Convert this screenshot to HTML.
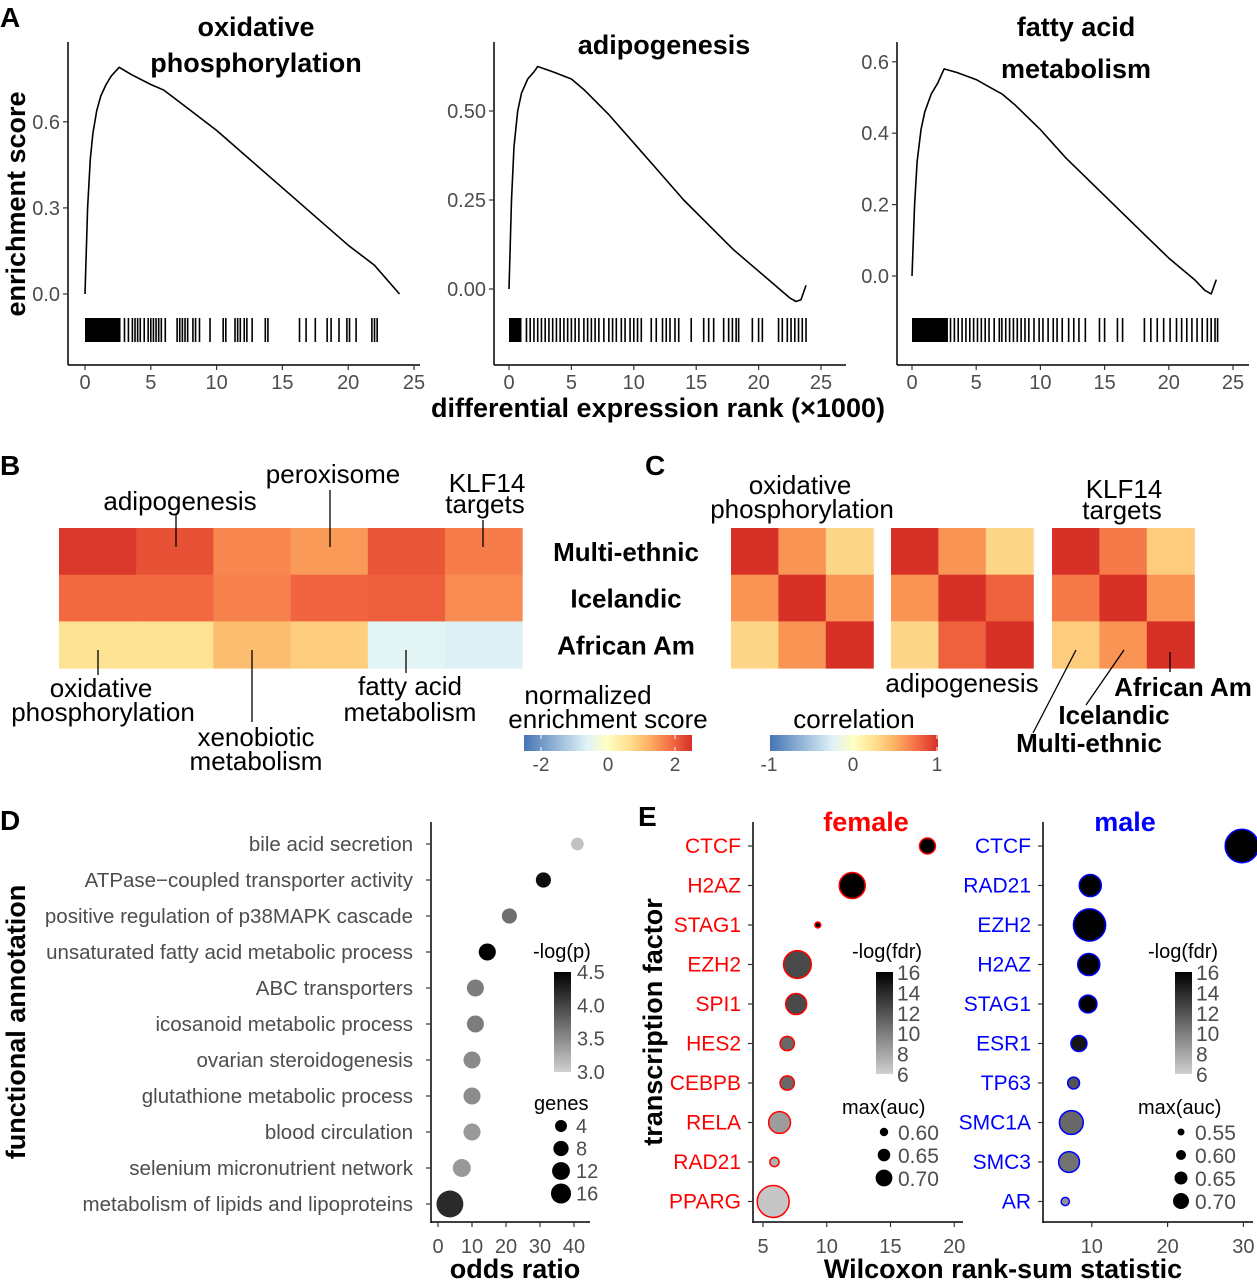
<!DOCTYPE html>
<html><head><meta charset="utf-8"><style>
html,body{margin:0;padding:0;background:#fff}
svg{display:block;font-family:"Liberation Sans",sans-serif}
</style></head><body>
<svg id="fig" width="1257" height="1280" viewBox="0 0 1257 1280" xmlns="http://www.w3.org/2000/svg">
<defs>
<linearGradient id="gNES" x1="0" x2="1" y1="0" y2="0"><stop offset="0" stop-color="#4575b4"/><stop offset="0.375" stop-color="#e0f3f8"/><stop offset="0.5" stop-color="#ffffbf"/><stop offset="0.625" stop-color="#fee090"/><stop offset="0.75" stop-color="#fdae61"/><stop offset="0.875" stop-color="#f46d43"/><stop offset="1" stop-color="#d73027"/></linearGradient>
<linearGradient id="gGray" x1="0" x2="0" y1="1" y2="0"><stop offset="0" stop-color="#d0d0d0"/><stop offset="1" stop-color="#000"/></linearGradient>
</defs>
<g id="root"></g>
</svg>
<script>
// ---------- Panel A data ----------
const gseaTitles=[["oxidative","phosphorylation"],["adipogenesis"],["fatty acid","metabolism"]];
const curve1Rank=[0,0.2,0.4,0.6,0.9,1.2,1.6,2.0,2.6,3.5,5,6,8,10,12,14,16,18,20,22,23.9];
const curve1ES=[0,0.3,0.47,0.56,0.64,0.69,0.73,0.76,0.79,0.765,0.73,0.71,0.64,0.57,0.49,0.41,0.33,0.25,0.17,0.10,0];
const curve2Rank=[0,0.2,0.4,0.7,1.0,1.5,2.0,2.3,3.5,5,6,8,10,12,14,16,18,20,22,22.5,23,23.4,23.8];
const curve2ES=[0,0.25,0.4,0.5,0.55,0.59,0.61,0.625,0.61,0.59,0.56,0.49,0.41,0.33,0.25,0.18,0.11,0.05,-0.01,-0.025,-0.035,-0.03,0.01];
const curve3Rank=[0,0.2,0.4,0.7,1.0,1.5,2.0,2.5,3.5,5,6,7,8,10,12,14,16,18,20,22,22.8,23.3,23.7];
const curve3ES=[0,0.2,0.32,0.41,0.46,0.51,0.54,0.58,0.57,0.55,0.53,0.51,0.48,0.41,0.33,0.26,0.19,0.12,0.05,-0.01,-0.04,-0.05,-0.01];
const bar1Dense=[0,2.7];
const bar1Ranks=[3.0,3.3,3.6,3.8,4.0,4.2,4.5,4.8,5.0,5.2,5.4,5.6,5.8,6.1,7.0,7.2,7.4,7.6,7.8,8.2,8.4,8.7,9.5,10.5,10.7,11.4,11.6,11.8,12.1,12.3,12.7,13.7,13.9,16.3,16.8,17.5,18.4,18.7,19.3,19.9,20.1,20.6,21.8,22.0,22.2];
const bar2Dense=[0,1.0];
const bar2Ranks=[1.4,1.7,2.0,2.3,2.6,2.9,3.2,3.5,3.8,4.1,4.4,4.7,5.0,5.3,5.6,6.0,6.3,6.6,6.9,7.2,7.6,8.0,8.3,8.6,9.0,9.3,9.7,10.0,10.3,10.6,11.4,11.8,12.3,12.6,12.9,13.3,13.6,14.6,15.6,16.0,16.4,17.2,17.6,17.9,18.2,18.4,19.5,20.0,20.3,21.6,21.9,22.3,22.6,22.9,23.2,23.5,23.8];
const bar3Dense=[0,2.8];
const bar3Ranks=[3.0,3.3,3.6,3.9,4.2,4.5,4.8,5.1,5.4,5.7,6.0,6.4,6.8,7.0,7.3,7.6,7.9,8.2,8.5,8.8,9.1,9.5,9.9,10.2,10.6,11.0,11.3,11.7,12.2,12.6,13.0,13.5,14.6,15.0,16.0,16.4,18.1,18.6,19.1,19.6,20.1,20.6,21.0,21.4,21.8,22.2,22.6,23.0,23.3,23.6,23.8];
// ---------- Panel B data ----------
const nesRows=["Multi-ethnic","Icelandic","African Am"];
const nesValues=[[2.5,2.25,1.7,1.5,2.2,1.8],[2.0,2.0,1.75,2.05,2.1,1.65],[0.6,0.6,1.1,0.9,-0.6,-0.7]];
const nesTicks=[-2,0,2];
// ---------- Panel C data ----------
const corrMats=[[[1,0.6,0.3],[0.6,1,0.6],[0.3,0.6,1]],[[1,0.6,0.3],[0.6,1,0.8],[0.3,0.8,1]],[[1,0.7,0.35],[0.7,1,0.6],[0.35,0.6,1]]];
const corrTicks=[-1,0,1];
// ---------- Panel D data ----------
const annotLabels=["bile acid secretion","ATPase−coupled transporter activity","positive regulation of p38MAPK cascade","unsaturated fatty acid metabolic process","ABC transporters","icosanoid metabolic process","ovarian steroidogenesis","glutathione metabolic process","blood circulation","selenium micronutrient network","metabolism of lipids and lipoproteins"];
const annotOR=[41,31,21,14.5,11,11,10,10,10,7,3.5];
const annotLogP=[3.1,4.4,3.7,4.6,3.6,3.6,3.5,3.5,3.4,3.4,4.2];
const annotGenes=[3,5,5,7,7,7,7,7,7,8,22];
const orTicks=[0,10,20,30,40];
const logpTicks=[4.5,4.0,3.5,3.0];
const genesLegend=[4,8,12,16];
// ---------- Panel E data ----------
const femTF=["CTCF","H2AZ","STAG1","EZH2","SPI1","HES2","CEBPB","RELA","RAD21","PPARG"];
const femW=[17.9,12.0,9.3,7.7,7.6,6.9,6.9,6.3,5.9,5.8];
const femFdr=[16,16,16,12.5,12.5,11,11,8.5,7.5,6.5];
const femAuc=[0.69,0.81,0.57,0.83,0.75,0.67,0.67,0.76,0.61,0.88];
const maleTF=["CTCF","RAD21","EZH2","H2AZ","STAG1","ESR1","TP63","SMC1A","SMC3","AR"];
const maleW=[29.8,9.8,9.7,9.6,9.5,8.3,7.6,7.3,7.0,6.5];
const maleFdr=[16,16,16,16,16,15,12,11,10.5,9];
const maleAuc=[0.99,0.8,0.97,0.8,0.73,0.7,0.63,0.83,0.78,0.57];
const femTicks=[5,10,15,20];
const maleTicks=[10,20,30];
const fdrTicks=[16,14,12,10,8,6];
const femAucLegend=[0.60,0.65,0.70];
const maleAucLegend=[0.55,0.60,0.65,0.70];

const NS="http://www.w3.org/2000/svg";
const root=document.getElementById('root');
function el(tag,attrs,parent,txt){const e=document.createElementNS(NS,tag);for(const k in attrs)e.setAttribute(k,attrs[k]);if(txt!==undefined)e.textContent=txt;(parent||root).appendChild(e);return e;}
function grp(name,parent){const g=el('g',{},parent);


return g;}
function txt(name,x,y,s,opt,parent){opt=opt||{};const t=el('text',{x:x,y:y,'font-size':opt.size||20,'text-anchor':opt.anchor||'start',fill:opt.fill||'#000','font-weight':opt.bold?'bold':'normal'},parent,s);
if(opt.rot)t.setAttribute('transform','rotate('+opt.rot+' '+x+' '+y+')');


return t;}
function lin(x1,y1,x2,y2,parent,w,c){return el('line',{x1:x1,y1:y1,x2:x2,y2:y2,stroke:c||'#000','stroke-width':w||1.5},parent);}

[["A",0,27],["B",0,475],["C",645,475],["D",0,830],["E",638,826]].forEach(p=>{txt('panel-label-'+p[0].toLowerCase(),p[1],p[2],p[0],{size:28,bold:true});});

// ---------- Panel A ----------
const gseaCfg=[
 {ax:68,x0:85,px:13.16,y0:294,py:287,ticks:[0,0.3,0.6],fmt:1,curveR:curve1Rank,curveE:curve1ES,dense:bar1Dense,ranks:bar1Ranks,tx:256,ty:[36,72]},
 {ax:494,x0:509,px:12.48,y0:289,py:356,ticks:[0,0.25,0.5],fmt:2,curveR:curve2Rank,curveE:curve2ES,dense:bar2Dense,ranks:bar2Ranks,tx:664,ty:[54]},
 {ax:897,x0:912,px:12.84,y0:276,py:357,ticks:[0,0.2,0.4,0.6],fmt:1,curveR:curve3Rank,curveE:curve3ES,dense:bar3Dense,ranks:bar3Ranks,tx:1076,ty:[36,78]}];
gseaCfg.forEach((c,i)=>{
 const g=grp('gsea-plot-'+(i+1));
 const X=r=>c.x0+r*c.px, Y=v=>c.y0-v*c.py;
 lin(c.ax,42,c.ax,365,g,1.5); lin(c.ax,365,c.ax+352,365,g,1.5);
 [0,5,10,15,20,25].forEach(t=>{lin(X(t),365,X(t),370,g,1.2,'#333');txt('x-tick',X(t),389,String(t),{size:20,anchor:'middle',fill:'#4d4d4d'},g);});
 c.ticks.forEach(t=>{lin(c.ax-5,Y(t),c.ax,Y(t),g,1.2,'#333');txt('y-tick',c.ax-8,Y(t)+7,t.toFixed(c.fmt),{size:20,anchor:'end',fill:'#4d4d4d'},g);});
 const d=c.curveR.map((r,k)=>(k?'L':'M')+X(r).toFixed(1)+' '+Y(c.curveE[k]).toFixed(1)).join(' ');
 const p=el('path',{d:d,fill:'none',stroke:'#000','stroke-width':1.6,'stroke-linejoin':'round'},g);
 
 
 el('rect',{x:X(c.dense[0]),y:318,width:X(c.dense[1])-X(c.dense[0]),height:24,fill:'#000'},g);
 c.ranks.forEach(r=>lin(X(r),318,X(r),342,g,1.6));
 gseaTitles[i].forEach((s,k)=>txt('plot-title',c.tx,c.ty[k],s,{size:27,bold:true,anchor:'middle'},g));
});
txt('y-axis-title',25,204,'enrichment score',{size:27,bold:true,anchor:'middle',rot:-90});
txt('x-axis-title',658,417,'differential expression rank (×1000)',{size:27,bold:true,anchor:'middle'});

// ---------- colour scale ----------
const stops=[[-1,[69,117,180]],[-0.25,[224,243,248]],[0,[255,255,191]],[0.25,[254,224,144]],[0.5,[253,174,97]],[0.75,[244,109,67]],[1,[215,48,39]]];
function cmap(t){t=Math.max(-1,Math.min(1,t));for(let i=0;i<stops.length-1;i++){const a=stops[i],b=stops[i+1];if(t<=b[0]){const f=(t-a[0])/(b[0]-a[0]);return 'rgb('+a[1].map((v,j)=>Math.round(v+(b[1][j]-v)*f)).join(',')+')';}}}

// ---------- Panel B ----------
const gB=grp('nes-heatmap');
const bx0=59,bw=77.2,by0=528,bh=46.7;
nesValues.forEach((row,r)=>row.forEach((v,c)=>{const rc=el('rect',{x:bx0+c*bw,y:by0+r*bh,width:bw+0.5,height:bh+0.5,fill:cmap(v/2.6)},gB);

}));
nesRows.forEach((s,r)=>txt('row-label',626,by0+r*bh+33,s,{size:26,bold:true,anchor:'middle'}));
const LS=26;
[["adipogenesis",180,510,[176,515,176,547]],["peroxisome",333,483,[330,490,330,547]],["KLF14",487,492,null],["targets",485,513,[483,520,483,547]]].forEach(a=>{txt('annotation-label',a[1],a[2],a[0],{size:LS,anchor:'middle'});if(a[3])lin(...a[3],root,1.3);});
[["oxidative",101,697],["phosphorylation",103,721],["xenobiotic",256,746],["metabolism",256,770],["fatty acid",410,695],["metabolism",410,721]].forEach(a=>txt('annotation-label',a[1],a[2],a[0],{size:LS,anchor:'middle'}));
lin(98,650,98,675,root,1.3);lin(252,650,252,722,root,1.3);lin(406,650,406,673,root,1.3);
txt('legend-title',588,704,'normalized',{size:LS,anchor:'middle'});txt('legend-title',608,728,'enrichment score',{size:LS,anchor:'middle'});
el('rect',{x:524,y:735,width:168,height:16,fill:'url(#gNES)'});
nesTicks.forEach(t=>{const x=608+t*33.5;lin(x,735,x,739,root,1,'#fff');lin(x,747,x,751,root,1,'#fff');txt('legend-tick',x,771,String(t),{size:19,anchor:'middle',fill:'#4d4d4d'});});

// ---------- Panel C ----------
const cX=[731,891,1052];
corrMats.forEach((m,k)=>{const g=grp('correlation-matrix-'+(k+1));m.forEach((row,r)=>row.forEach((v,c)=>{const rc=el('rect',{x:cX[k]+c*47.4,y:by0+r*bh,width:48,height:bh+0.5,fill:cmap(v)},g);

}));});
txt('matrix-title',800,494,'oxidative',{size:LS,anchor:'middle'});txt('matrix-title',802,518,'phosphorylation',{size:LS,anchor:'middle'});
txt('matrix-title',1124,498,'KLF14',{size:LS,anchor:'middle'});txt('matrix-title',1122,519,'targets',{size:LS,anchor:'middle'});
txt('matrix-title',962,692,'adipogenesis',{size:LS,anchor:'middle'});
txt('cohort-label',1183,696,'African Am',{size:26,bold:true,anchor:'middle'});
txt('cohort-label',1114,724,'Icelandic',{size:26,bold:true,anchor:'middle'});
txt('cohort-label',1089,752,'Multi-ethnic',{size:26,bold:true,anchor:'middle'});
lin(1170,652,1170,672,root,1.3);lin(1124,650,1086,705,root,1.3);lin(1076,650,1033,733,root,1.3);
txt('legend-title',854,728,'correlation',{size:LS,anchor:'middle'});
el('rect',{x:770,y:735,width:168,height:16,fill:'url(#gNES)'});
corrTicks.forEach(t=>{const x=853+t*84;lin(x,735,x,739,root,1,'#fff');lin(x,747,x,751,root,1,'#fff');txt('legend-tick',x,771,String(t),{size:19,anchor:'middle',fill:'#4d4d4d'});});

// ---------- Panel D ----------
const gD=grp('annotation-dotplot');
const dX=v=>438+v*3.4, dY=i=>844+i*36;
const grayP=v=>{const f=Math.max(0,Math.min(1,(v-3)/1.5));const g=Math.round(208-208*f);return 'rgb('+g+','+g+','+g+')';};
const rG=n=>2.2+Math.sqrt(n)*2.4;
lin(431,822,431,1223,gD,1.5);lin(431,1222,590,1222,gD,1.5);
annotLabels.forEach((s,i)=>{lin(426,dY(i),431,dY(i),gD,1.2,'#333');txt('annotation-label',413,dY(i)+7,s,{size:20.5,anchor:'end',fill:'#4d4d4d'},gD);
const c=el('circle',{cx:dX(annotOR[i]),cy:dY(i),r:rG(annotGenes[i]),fill:grayP(annotLogP[i])},gD);

});
orTicks.forEach(t=>{lin(dX(t),1222,dX(t),1227,gD,1.2,'#333');txt('x-tick',dX(t),1253,String(t),{size:20,anchor:'middle',fill:'#4d4d4d'},gD);});
txt('x-axis-title',515,1278,'odds ratio',{size:27,bold:true,anchor:'middle'});
txt('y-axis-title',25,1022,'functional annotation',{size:27,bold:true,anchor:'middle',rot:-90});
txt('legend-title',533,958,'-log(p)',{size:20});
el('rect',{x:554,y:972,width:17,height:100,fill:'url(#gGray)'});
logpTicks.forEach(t=>{const y=972+(4.5-t)/1.5*100;txt('legend-tick',577,y+7,t.toFixed(1),{size:20,fill:'#4d4d4d'});});
txt('legend-title',534,1110,'genes',{size:20});
genesLegend.forEach((n,k)=>{const y=1126+k*22.5;el('circle',{cx:561,cy:y,r:rG(n)*0.85,fill:'#000'});txt('legend-tick',576,y+7,String(n),{size:20,fill:'#4d4d4d'});});

// ---------- Panel E ----------
const grayF=v=>{const f=Math.max(0,Math.min(1,(v-6)/10));const g=Math.round(208-208*f);return 'rgb('+g+','+g+','+g+')';};
const rF=a=>Math.max(2.5,(a-0.5)*42);
const rM=a=>Math.max(2.5,(a-0.433)*30);
function tfPanel(name,ax,axEnd,xf,labels,W,F,A,rf,ticks,col,title,titleX){
 const g=grp(name);const Y=i=>846+i*39.5;
 lin(ax,822,ax,1223,g,1.5);lin(ax,1222,axEnd,1222,g,1.5);
 txt('facet-title',titleX,831,title,{size:27,bold:true,anchor:'middle',fill:col},g);
 labels.forEach((s,i)=>{lin(ax-5,Y(i),ax,Y(i),g,1.2,'#333');txt('tf-label',ax-12,Y(i)+7,s,{size:21,anchor:'end',fill:col},g);
  const c=el('circle',{cx:xf(W[i]),cy:Y(i),r:rf(A[i]),fill:grayF(F[i]),stroke:col,'stroke-width':1.5},g);
  
  });
 ticks.forEach(t=>{lin(xf(t),1222,xf(t),1227,g,1.2,'#333');txt('x-tick',xf(t),1253,String(t),{size:20,anchor:'middle',fill:'#4d4d4d'},g);});
}
tfPanel('female-tf-plot',753,963,v=>763+(v-5)*12.75,femTF,femW,femFdr,femAuc,rF,femTicks,'#ff0000','female',866);
tfPanel('male-tf-plot',1043,1253,v=>1016+v*7.58,maleTF,maleW,maleFdr,maleAuc,rM,maleTicks,'#0000ff','male',1125);
txt('x-axis-title',1003,1278,'Wilcoxon rank-sum statistic',{size:27,bold:true,anchor:'middle'});
txt('y-axis-title',662,1022,'transcription factor',{size:27,bold:true,anchor:'middle',rot:-90});
[[852,876,884,femAucLegend,rF],[1148,1175,1181,maleAucLegend,rM]].forEach(L=>{
 txt('legend-title',L[0],958,'-log(fdr)',{size:20});
 el('rect',{x:L[1],y:972,width:17,height:102,fill:'url(#gGray)'});
 fdrTicks.forEach(t=>{const y=972+(16-t)/10*102;txt('legend-tick',L[1]+21,y+8,String(t),{size:21,fill:'#4d4d4d'});});
 txt('legend-title',L[0]-10,1114,'max(auc)',{size:20});
 L[3].forEach((a,k)=>{const y=1132+k*23;el('circle',{cx:L[2],cy:y,r:L[4](a),fill:'#000'});txt('legend-tick',L[2]+14,y+8,a.toFixed(2),{size:21,fill:'#4d4d4d'});});
});
</script>
</body></html>
